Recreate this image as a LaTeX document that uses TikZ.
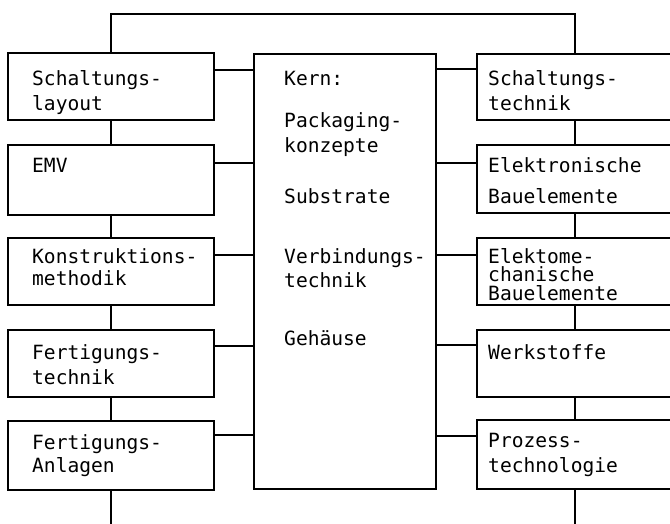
\documentclass[tikz,border=0pt]{standalone}
\usepackage{fontspec}
\setmonofont{DejaVu Sans Mono}
\usetikzlibrary{positioning,calc}

\tikzset{
	box/.style={draw, rectangle, line width=1.5pt, inner sep=0pt},
	wire/.style={line width=1.5pt},
	txt/.style={anchor=north west, align=left, inner sep=0pt, font=\ttfamily\fontsize{19.6}{24}\selectfont}
}

\begin{document}
\begin{tikzpicture}[x=1pt, y=-1pt]
	\useasboundingbox (0,0) rectangle (670,524);
	\clip (0,0) rectangle (670,524);
	% left column
	\node (L1) [box, minimum width=206pt, minimum height=67pt] at (111,86.5) {};
	\node (L2) [box, minimum width=206pt, minimum height=70pt] at (111,180) {};
	\node (L3) [box, minimum width=206pt, minimum height=67pt] at (111,271.5) {};
	\node (L4) [box, minimum width=206pt, minimum height=67pt] at (111,363.5) {};
	\node (L5) [box, minimum width=206pt, minimum height=69pt] at (111,455.5) {};
	% core
	\node (kern) [box, minimum width=182pt, minimum height=435pt] at (345,271.5) {};
	% right column
	\node (R1) [box, minimum width=196pt, minimum height=66pt] at (575,87) {};
	\node (R2) [box, minimum width=196pt, minimum height=68pt] at (575,179) {};
	\node (R3) [box, minimum width=196pt, minimum height=67pt] at (575,271.5) {};
	\node (R4) [box, minimum width=196pt, minimum height=67pt] at (575,363.5) {};
	\node (R5) [box, minimum width=196pt, minimum height=69pt] at (575,454.5) {};

	% texts
	\node (L1t) [txt] at (32,68.2) {\strut Schaltungs-\\[1pt]layout};
	\node (L2t) [txt] at (32,155.2) {\strut EMV};
	\node (L3t) [txt] at (32,246.2) {\strut Konstruktions-\\[-2pt]methodik};
	\node (L4t) [txt] at (32,342.2) {\strut Fertigungs-\\[1pt]technik};
	\node (L5t) [txt] at (32,432.2) {\strut Fertigungs-\\[-1pt]Anlagen};
	\node (kernt) [txt] at (284,68.2) {\strut Kern:\\[18pt]Packaging-\\[1pt]konzepte\\[27pt]Substrate\\[36pt]Verbindungs-\\[0pt]technik\\[34pt]Geh\"ause};
	\node (R1t) [txt] at (488,68.2) {\strut Schaltungs-\\[1pt]technik};
	\node (R2t) [txt] at (488,155.2) {\strut Elektronische\\[7pt]Bauelemente};
	\node (R3t) [txt] at (488,246.2) {\strut Elektome-\\[-6pt]chanische\\[-5pt]Bauelemente};
	\node (R4t) [txt] at (488,342.2) {\strut Werkstoffe};
	\node (R5t) [txt] at (488,430.2) {\strut Prozess-\\[1pt]technologie};

	% connectors
	\coordinate (topbar) at (345,14);
	\coordinate (lfoot) at (111,530);
	\coordinate (rfoot) at (575,530);
	\draw[wire] (L1.north) |- (topbar) -| (R1.north);
	\draw[wire] (L5.south) -- (lfoot);
	\draw[wire] (R5.south) -- (rfoot);
	\foreach \a/\b in {L1/L2,L2/L3,L3/L4,L4/L5,R1/R2,R2/R3,R3/R4,R4/R5}
		\draw[wire] (\a.south) -- (\b.north);
	\foreach \b/\y in {L1/70,L2/163,L3/255,L4/346,L5/435}
		\draw[wire] (\b.east |- 0,\y) -- (kern.west |- 0,\y);
	\foreach \b/\y in {R1/69,R2/163,R3/255,R4/345,R5/436}
		\draw[wire] (kern.east |- 0,\y) -- (\b.west |- 0,\y);
\end{tikzpicture}
\end{document}
